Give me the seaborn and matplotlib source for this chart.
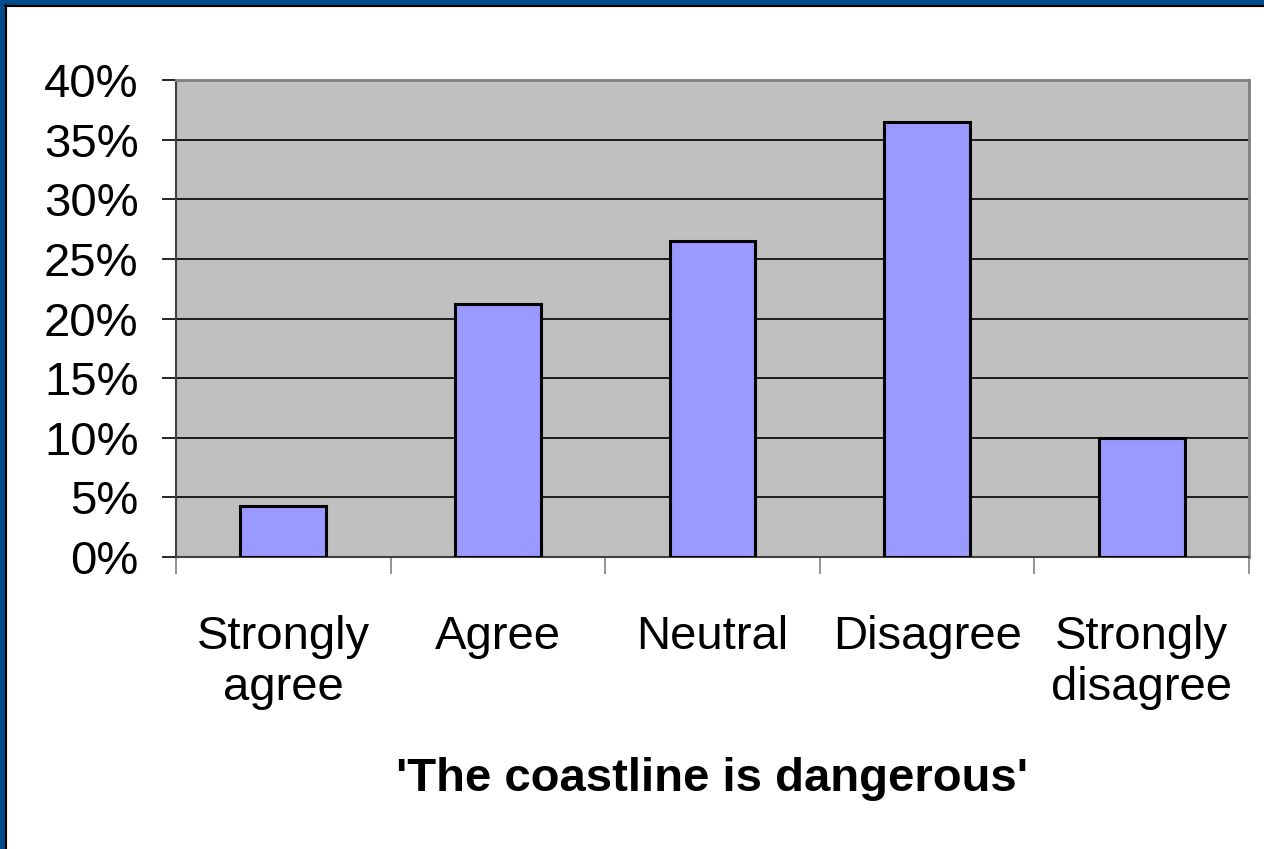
import matplotlib
matplotlib.use("Agg")
from matplotlib import pyplot as plt
from matplotlib.patches import Rectangle
import pandas as pd
import seaborn as sns

# survey answers
categories = ["Strongly\nagree", "Agree", "Neutral", "Disagree", "Strongly\ndisagree"]
shares = [4.3, 21.2, 26.5, 36.5, 10.0]
y_ticks = [0, 5, 10, 15, 20, 25, 30, 35, 40]
y_labels = [f"{v}%" for v in y_ticks]

df = pd.DataFrame({"answer": categories, "share": shares})

sns.set_style("white")
plt.rcParams["font.family"] = ["Liberation Sans", "DejaVu Sans"]
plt.rcParams["text.color"] = "black"
plt.rcParams["xtick.labelcolor"] = "black"
plt.rcParams["ytick.labelcolor"] = "black"
plt.rcParams["axes.labelcolor"] = "black"

fig = plt.figure(figsize=(12.64, 8.49), dpi=100)
ax = fig.add_axes([176 / 1264, 1 - 557 / 849, (1249 - 176) / 1264, (557 - 80) / 849])

ax.set_facecolor("#C0C0C0")
sns.barplot(data=df, x="answer", y="share", color="#9999FF", saturation=1,
            width=0.4, edgecolor="black", linewidth=2.2, ax=ax, zorder=3)

ax.set_ylim(0, 40)
ax.set_xlim(-0.5, 4.5)
ax.set_yticks(y_ticks)
ax.set_yticklabels(y_labels, fontsize=34)
ax.yaxis.grid(True, color="black", linewidth=1.2, zorder=1)
ax.set_axisbelow(True)
ax.tick_params(axis="y", length=10, width=1.2, color="black", pad=17, left=True)

# x ticks sit between categories, labels in the middle
ax.set_xticks([-0.5, 0.5, 1.5, 2.5, 3.5, 4.5])
ax.set_xticklabels([])
ax.set_xticks(range(len(categories)), minor=True)
ax.set_xticklabels(categories, minor=True, fontsize=34)
ax.tick_params(axis="x", which="major", length=12, width=1.2, color="#808080", bottom=True)
ax.tick_params(axis="x", which="minor", length=0, pad=42)
ax.set_xlabel("'The coastline is dangerous'", fontsize=34, fontweight="bold", labelpad=34)
ax.set_ylabel("")

for side in ["left", "bottom"]:
    ax.spines[side].set_color("#404040")
    ax.spines[side].set_linewidth(1.5)
for side in ["right", "top"]:
    ax.spines[side].set_color("#808080")
    ax.spines[side].set_linewidth(2)

# slide frame at top and left
fig.patches.append(Rectangle((0, 1 - 5 / 849), 1, 5 / 849, transform=fig.transFigure,
                             facecolor="#004C8C", edgecolor="none"))
fig.patches.append(Rectangle((0, 0), 5 / 1264, 1, transform=fig.transFigure,
                             facecolor="#004C8C", edgecolor="none"))
fig.lines.append(plt.Line2D([5 / 1264, 1], [1 - 6 / 849, 1 - 6 / 849], transform=fig.transFigure,
                            color="black", linewidth=1.5))
fig.lines.append(plt.Line2D([6 / 1264, 6 / 1264], [0, 1 - 5 / 849], transform=fig.transFigure,
                            color="black", linewidth=1.5))

fig.savefig("out.png", dpi=100)
